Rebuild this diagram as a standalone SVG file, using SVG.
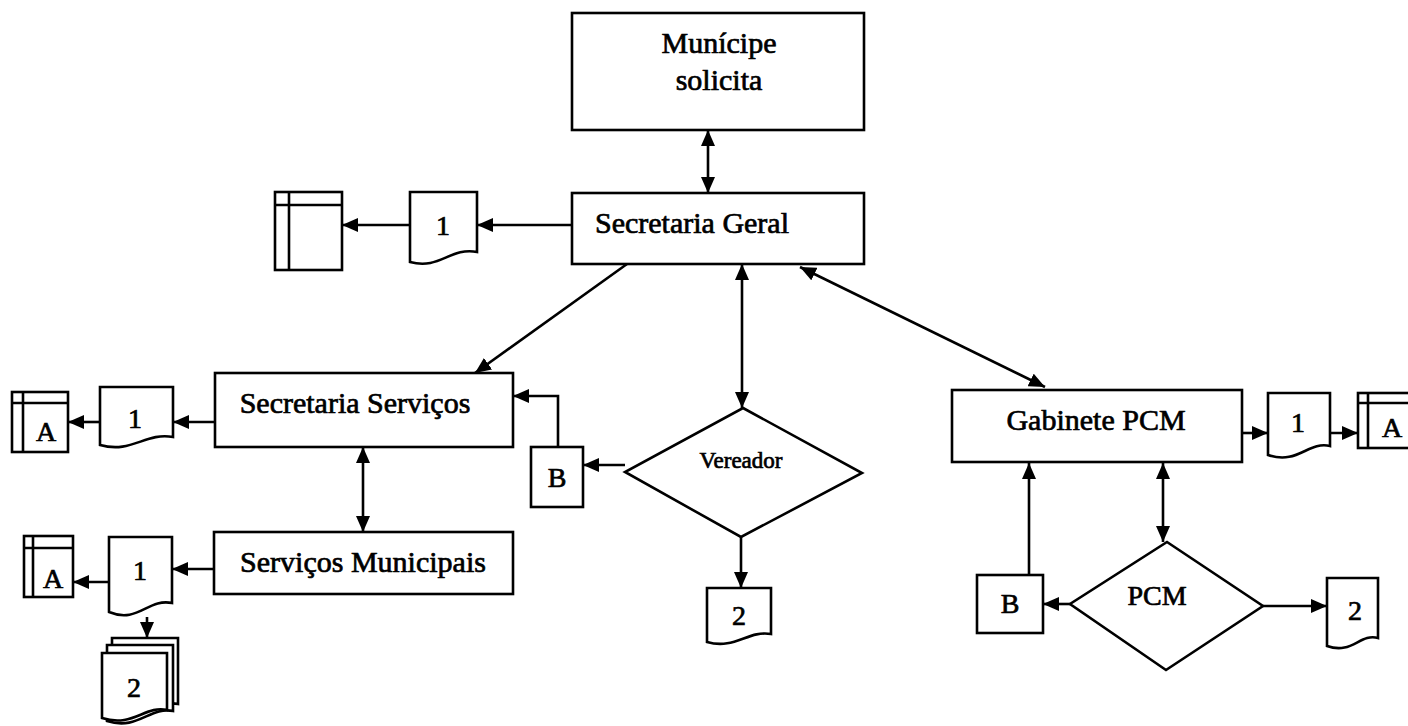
<svg xmlns="http://www.w3.org/2000/svg" width="1408" height="726" viewBox="0 0 1408 726">
  <style>
    .box { fill: #fff; stroke: #000; stroke-width: 2.6; }
    .ln { fill: none; stroke: #000; stroke-width: 2.6; }
    .t { font-family: "Liberation Serif", "Times New Roman", serif; fill: #000; stroke: #000; stroke-width: 0.7; text-anchor: middle; }
    .big { font-size: 30px; }
    .mid { font-size: 28px; }
    .sm { font-size: 23px; }
    .arr { marker-end: url(#ah); }
    .arr2 { marker-start: url(#ah); marker-end: url(#ah); }
  </style>
  <defs>
    <marker id="ah" viewBox="0 0 16 14" refX="16" refY="7" markerWidth="16" markerHeight="14" markerUnits="userSpaceOnUse" orient="auto-start-reverse">
      <path d="M0,0 L16,7 L0,14 Z" fill="#000"/>
    </marker>
  </defs>
  <rect width="1408" height="726" fill="#fff"/>

  <!-- connectors -->
  <g id="connectors">
    <path class="ln arr2" d="M708,130 V193"/>
    <path class="ln arr" d="M572,225 H477"/>
    <path class="ln arr" d="M410,225 H342"/>
    <path class="ln arr" d="M627,264 L475,373"/>
    <path class="ln arr2" d="M742,264 V408"/>
    <path class="ln arr2" d="M800,267 L1045,387"/>
    <path class="ln arr" d="M215,422 H173"/>
    <path class="ln arr" d="M100,422 H68"/>
    <path class="ln arr2" d="M363,447 V532"/>
    <path class="ln arr" d="M625,465 H583"/>
    <path class="ln arr" d="M558,447 V396 H513"/>
    <path class="ln arr" d="M741,537 V588"/>
    <path class="ln arr" d="M214,569 H172"/>
    <path class="ln arr" d="M109,582 H73"/>
    <path class="ln arr" d="M147,617 V638"/>
    <path class="ln arr" d="M1242,433 H1268"/>
    <path class="ln arr" d="M1320,433 H1358"/>
    <path class="ln arr2" d="M1163,463 V542"/>
    <path class="ln arr" d="M1029,575 V463"/>
    <path class="ln arr" d="M1070,604 H1043"/>
    <path class="ln arr" d="M1263,606 H1327"/>
  </g>

  <!-- process boxes -->
  <g id="municipe">
    <rect class="box" x="572" y="13" width="292" height="117"/>
    <text class="t big" x="719" y="53">Munícipe</text>
    <text class="t big" x="719" y="90">solicita</text>
  </g>
  <g id="secretaria-geral">
    <rect class="box" x="572" y="193" width="292" height="71"/>
    <text class="t big" x="692" y="233">Secretaria Geral</text>
  </g>
  <g id="secretaria-servicos">
    <rect class="box" x="215" y="373" width="298" height="74"/>
    <text class="t big" x="355" y="413">Secretaria Serviços</text>
  </g>
  <g id="servicos-municipais">
    <rect class="box" x="214" y="532" width="299" height="62"/>
    <text class="t big" x="363" y="572">Serviços Municipais</text>
  </g>
  <g id="gabinete-pcm">
    <rect class="box" x="952" y="390" width="290" height="72"/>
    <text class="t big" x="1096" y="430">Gabinete PCM</text>
  </g>

  <!-- decisions -->
  <g id="vereador">
    <polygon class="box" points="743,408 862,473 741,537 625,472"/>
    <text class="t sm" x="741" y="468">Vereador</text>
  </g>
  <g id="pcm">
    <polygon class="box" points="1167,542 1263,606 1166,670 1070,604"/>
    <text class="t mid" x="1157" y="605">PCM</text>
  </g>

  <!-- connector boxes B -->
  <g id="b-vereador">
    <rect class="box" x="531" y="447" width="52" height="60"/>
    <text class="t mid" x="557" y="487">B</text>
  </g>
  <g id="b-pcm">
    <rect class="box" x="977" y="575" width="66" height="58"/>
    <text class="t mid" x="1010" y="613">B</text>
  </g>

  <!-- documents -->
  <g id="doc-geral">
    <path class="box" d="M410,192 H477 V252 C450,247 440,270 410,262 Z"/>
    <text class="t mid" x="443" y="235">1</text>
  </g>
  <g id="doc-servicos">
    <path class="box" d="M100,387 H173 V437 C145,432 132,454 100,445 Z"/>
    <text class="t mid" x="135" y="428">1</text>
  </g>
  <g id="doc-municipais">
    <path class="box" d="M109,537 H172 V603 C148,598 138,624 109,612 Z"/>
    <text class="t mid" x="140" y="580">1</text>
  </g>
  <g id="doc-vereador">
    <path class="box" d="M707,588 H771 V634 C748,630 735,650 707,642 Z"/>
    <text class="t mid" x="739" y="625">2</text>
  </g>
  <g id="doc-gabinete">
    <path class="box" d="M1268,393 H1330 V446 C1308,441 1298,465 1268,455 Z"/>
    <text class="t mid" x="1298" y="432">1</text>
  </g>
  <g id="doc-pcm">
    <path class="box" d="M1327,578 H1378 V638 C1360,633 1352,655 1327,646 Z"/>
    <text class="t mid" x="1355" y="620">2</text>
  </g>
  <g id="doc-stack">
    <path class="box" d="M112,638 H178 V704 C155,699 143,724 112,714 Z"/>
    <path class="box" d="M107,645 H173 V711 C150,706 138,731 107,721 Z"/>
    <path class="box" d="M102,653 H167 V710 C145,705 133,728 102,718 Z"/>
    <text class="t mid" x="134" y="697">2</text>
  </g>

  <!-- files (tables) -->
  <g id="file-geral">
    <rect class="box" x="275" y="192" width="67" height="78"/>
    <path class="ln" d="M289,192 V270 M275,205 H342"/>
  </g>
  <g id="file-servicos">
    <rect class="box" x="12" y="392" width="56" height="60"/>
    <path class="ln" d="M23,392 V452 M12,403 H68"/>
    <text class="t mid" x="46" y="441">A</text>
  </g>
  <g id="file-municipais">
    <rect class="box" x="24" y="536" width="49" height="61"/>
    <path class="ln" d="M33,536 V597 M24,548 H73"/>
    <text class="t mid" x="53" y="588">A</text>
  </g>
  <g id="file-gabinete">
    <rect class="box" x="1358" y="393" width="56" height="55"/>
    <path class="ln" d="M1368,393 V448 M1358,403 H1414"/>
    <text class="t mid" x="1392" y="437">A</text>
  </g>
</svg>
